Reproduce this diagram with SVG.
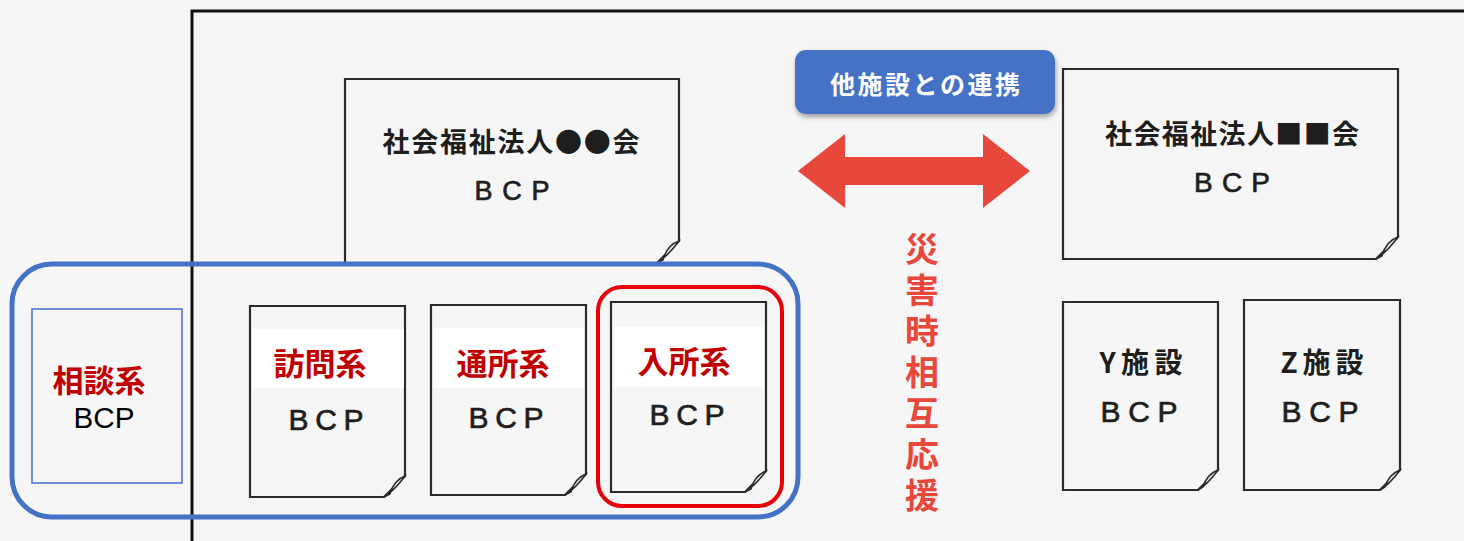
<svg xmlns="http://www.w3.org/2000/svg" width="1464" height="541" viewBox="0 0 1464 541">
<defs>
<style>
.doc{fill:none;stroke:#2b2b2b;stroke-width:2.2}
.curl{fill:#e6e6e6;stroke:#2b2b2b;stroke-width:1.5}
.jp{font-family:"Noto Sans CJK JP","Noto Sans",sans-serif;font-weight:bold;fill:#1e1e1e;text-anchor:middle}
.bcp{font-family:"Liberation Sans",Arial,sans-serif;fill:#1e1e1e;stroke:#1e1e1e;stroke-width:0.7;text-anchor:middle}
.lbl{font-family:"Noto Sans CJK JP","Noto Sans",sans-serif;font-weight:bold;fill:#C00000;text-anchor:middle;font-size:31px}
.band{fill:#ffffff}
.vt{font-family:"Noto Sans CJK JP","Noto Sans",sans-serif;font-weight:bold;fill:#E8473B;font-size:34px}
</style>
<filter id="sh" x="-10%" y="-20%" width="120%" height="150%">
<feDropShadow dx="1" dy="3" stdDeviation="2.5" flood-color="#000" flood-opacity="0.35"/>
</filter>
</defs>
<rect x="0" y="0" width="1464" height="541" fill="#f6f6f6"/>
<g id="frame">
<path d="M192,541 V11 H1464" fill="none" stroke="#111" stroke-width="3"/>
</g>
<g id="hojin1">
<path class="doc" d="M345,79 H679 V241 L657,263 H345 Z"/>
<path class="curl" d="M679,241 Q667,245 663,260 L657,263 Q668,256 679,241 Z"/>
<text class="jp" x="511" y="152" font-size="27" textLength="257" lengthAdjust="spacing">社会福祉法人●●会</text>
<text class="bcp" x="512" y="200" font-size="27" textLength="75" lengthAdjust="spacing">BCP</text>
</g>
<g id="hojin2">
<path class="doc" d="M1063,69 H1398 V237 L1376,259 H1063 Z"/>
<path class="curl" d="M1398,237 Q1386,241 1382,256 L1376,259 Q1387,252 1398,237 Z"/>
<text class="jp" x="1232" y="144" font-size="27" textLength="254" lengthAdjust="spacing">社会福祉法人■■会</text>
<text class="bcp" x="1232" y="192" font-size="28" textLength="76" lengthAdjust="spacing">BCP</text>
</g>
<g id="yshisetsu">
<path class="doc" d="M1063,302 H1218 V470 L1198,490 H1063 Z"/>
<path class="curl" d="M1218,470 Q1207,474 1203,487 L1198,490 Q1208,484 1218,470 Z"/>
<text class="jp" x="1141" y="373" font-size="28" textLength="83" lengthAdjust="spacing">Y施設</text>
<text class="bcp" x="1139" y="422" font-size="30" textLength="77" lengthAdjust="spacing">BCP</text>
</g>
<g id="zshisetsu">
<path class="doc" d="M1244,300 H1400 V470 L1380,490 H1244 Z"/>
<path class="curl" d="M1400,470 Q1389,474 1385,487 L1380,490 Q1390,484 1400,470 Z"/>
<text class="jp" x="1322" y="373" font-size="28" textLength="83" lengthAdjust="spacing">Z施設</text>
<text class="bcp" x="1320" y="422" font-size="30" textLength="77" lengthAdjust="spacing">BCP</text>
</g>
<g id="soudan">
<rect x="32" y="309" width="150" height="174" fill="none" stroke="#4472C4" stroke-width="1.5"/>
<text class="lbl" x="99" y="392">相談系</text>
<text x="104" y="428" font-family="Liberation Sans,Arial,sans-serif" font-size="29" fill="#000" text-anchor="middle" textLength="61" lengthAdjust="spacingAndGlyphs">BCP</text>
</g>
<g id="houmon">
<path class="doc" d="M250,306 H405 V476 L384,497 H250 Z"/>
<path class="curl" d="M405,476 Q394,480 390,494 L384,497 Q395,490 405,476 Z"/>
<rect class="band" x="252" y="329" width="152" height="59"/>
<text class="lbl" x="320" y="375">訪問系</text>
<text class="bcp" x="326" y="430" font-size="30" textLength="75" lengthAdjust="spacing">BCP</text>
</g>
<g id="tsusho">
<path class="doc" d="M431,305 H586 V474 L565,495 H431 Z"/>
<path class="curl" d="M586,474 Q575,478 571,492 L565,495 Q576,488 586,474 Z"/>
<rect class="band" x="433" y="328" width="151" height="60"/>
<text class="lbl" x="503" y="375">通所系</text>
<text class="bcp" x="506" y="428" font-size="30" textLength="75" lengthAdjust="spacing">BCP</text>
</g>
<g id="nyusho">
<path class="doc" d="M611,302 H766 V471 L745,492 H611 Z"/>
<path class="curl" d="M766,471 Q755,475 751,489 L745,492 Q756,485 766,471 Z"/>
<rect class="band" x="614" y="327" width="150" height="60"/>
<text class="lbl" x="684" y="373">入所系</text>
<text class="bcp" x="687" y="425" font-size="30" textLength="75" lengthAdjust="spacing">BCP</text>
<rect x="598" y="287" width="184" height="219" rx="24" fill="none" stroke="#E8000B" stroke-width="4"/>
</g>
<g id="group">
<rect x="12" y="264" width="786" height="253" rx="40" fill="none" stroke="#4472C4" stroke-width="5"/>
</g>
<g id="renkei">
<rect x="795" y="50" width="260" height="64" rx="11" fill="#4472C4" filter="url(#sh)"/>
<text x="925" y="94" font-family="Noto Sans CJK JP,Noto Sans,sans-serif" font-weight="bold" font-size="25" fill="#fff" text-anchor="middle" textLength="190" lengthAdjust="spacing">他施設との連携</text>
</g>
<g id="connectors">
<path d="M798,171 L845,134 V157 H983 V134 L1030,171 L983,208 V185 H845 V208 Z" fill="#E8473B"/>
</g>
<g id="ouen">
<text class="vt" x="922" y="232" writing-mode="vertical-rl" letter-spacing="7">災害時相互応援</text>
</g>
</svg>
